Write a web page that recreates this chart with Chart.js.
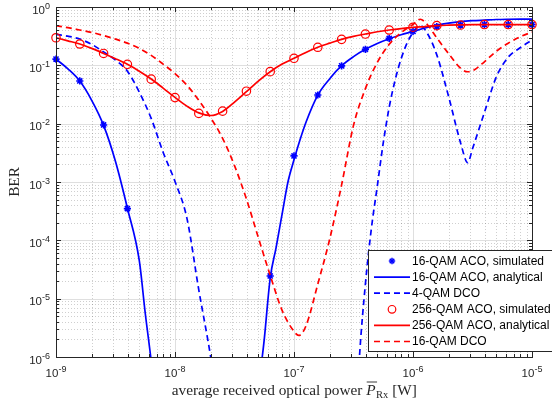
<!DOCTYPE html>
<html><head><meta charset="utf-8">
<script src="https://cdn.jsdelivr.net/npm/chart.js@4"></script>
<style>html,body{margin:0;padding:0;background:#fff;overflow:hidden}#wrap{width:552px;height:404px;position:relative}</style>
</head><body><div id="wrap"><canvas id="c" width="552" height="404"></canvas></div>
<script>
// ---- tick labels (decade exponents) ----
const xTickExps = [-9, -8, -7, -6, -5];
const yTickExps = [-6, -5, -4, -3, -2, -1, 0];

// ---- simulated points (x = 10^exp W) ----
const simExp = [-9, -8.8, -8.6, -8.4, -8.2, -8, -7.8, -7.6, -7.4, -7.2, -7, -6.8, -6.6, -6.4, -6.2, -6, -5.8, -5.6, -5.4, -5.2, -5];
const qam16AcoSim = [0.128, 0.054, 0.0095, 3.5e-4, null, null, null, null, null, 2.45e-5, 2.8e-3, 0.031, 0.098, 0.188, 0.29, 0.38, 0.46, 0.49, 0.50, 0.50, 0.50];
const qam256AcoSim = [0.297, 0.232, 0.160, 0.104, 0.058, 0.028, 0.015, 0.0164, 0.036, 0.078, 0.132, 0.204, 0.279, 0.344, 0.403, 0.45, 0.479, 0.49, 0.50, 0.50, 0.50];

// ---- 16-QAM ACO analytical ----
const qam16AcoAnaExp = [-9, -8.9, -8.8, -8.7, -8.6, -8.5, -8.4, -8.3, -8.25, -8.2, -8.1, -8, -7.8, -7.6, -7.4, -7.3, -7.25, -7.2, -7.15, -7.1, -7.05, -7, -6.95, -6.9, -6.8, -6.7, -6.6, -6.5, -6.4, -6.3, -6.2, -6.1, -6, -5.9, -5.8, -5.7, -5.6, -5.5, -5.4, -5.3, -5.2, -5.1, -5];
const qam16AcoAna = [0.128, 0.0871, 0.0537, 0.0251, 0.00933, 0.00224, 3.55e-4, 4.47e-5, 5.62e-6, 8.51e-7, 1e-8, 1e-10, 1e-13, 1e-14, 1e-10, 2.24e-7, 2.0e-6, 2.24e-5, 7.59e-5, 2.82e-4, 1.02e-3, 2.40e-3, 5.25e-3, 0.0105, 0.0309, 0.0589, 0.0984, 0.141, 0.188, 0.237, 0.286, 0.335, 0.380, 0.437, 0.490, 0.531, 0.562, 0.582, 0.596, 0.610, 0.617, 0.621, 0.622];

// ---- 4-QAM DCO ----
const qam4DcoExp = [-9, -8.9, -8.8, -8.7, -8.6, -8.5, -8.4, -8.3, -8.2, -8.1, -8, -7.9, -7.8, -7.7, -7.6, -7.4, -7, -6.6, -6.5, -6.45, -6.4, -6.35, -6.3, -6.25, -6.2, -6.15, -6.1, -6.05, -6, -5.94, -5.88, -5.8, -5.7, -5.6, -5.54, -5.5, -5.4, -5.3, -5.2, -5.1, -5];
const qam4Dco = [0.339, 0.316, 0.282, 0.229, 0.170, 0.123, 0.0794, 0.0347, 0.0123, 3.24e-3, 1.02e-3, 2.40e-4, 1.41e-5, 1e-6, 3.98e-8, 1e-10, 1e-14, 1e-11, 1.26e-8, 1e-6, 1.78e-5, 1.58e-4, 8.51e-4, 4.68e-3, 0.0191, 0.0562, 0.129, 0.240, 0.363, 0.479, 0.355, 0.151, 0.0288, 4.68e-3, 2.14e-3, 3.72e-3, 0.0155, 0.0631, 0.138, 0.2, 0.272];

// ---- 256-QAM ACO analytical ----
const qam256AcoAnaExp = [-9, -8.9, -8.8, -8.7, -8.6, -8.5, -8.4, -8.3, -8.2, -8.1, -8, -7.9, -7.8, -7.7, -7.6, -7.5, -7.4, -7.3, -7.2, -7.1, -7, -6.9, -6.8, -6.7, -6.6, -6.5, -6.4, -6.3, -6.2, -6.1, -6, -5.9, -5.8, -5.7, -5.6, -5.5, -5.4, -5.3, -5.2, -5.1, -5];
const qam256AcoAna = [0.297, 0.263, 0.232, 0.195, 0.160, 0.130, 0.104, 0.0794, 0.0582, 0.0407, 0.0282, 0.0200, 0.0153, 0.0138, 0.0162, 0.0234, 0.0355, 0.0537, 0.0776, 0.105, 0.132, 0.166, 0.204, 0.240, 0.279, 0.313, 0.344, 0.376, 0.403, 0.427, 0.447, 0.462, 0.479, 0.488, 0.494, 0.499, 0.50, 0.50, 0.50, 0.50, 0.50];

// ---- 16-QAM DCO ----
const qam16DcoExp = [-9, -8.9, -8.8, -8.7, -8.6, -8.5, -8.4, -8.3, -8.2, -8.1, -8, -7.9, -7.8, -7.7, -7.6, -7.5, -7.4, -7.3, -7.2, -7.1, -7, -6.96, -6.9, -6.8, -6.7, -6.6, -6.5, -6.4, -6.3, -6.2, -6.1, -6, -5.94, -5.88, -5.8, -5.7, -5.6, -5.54, -5.48, -5.4, -5.3, -5.2, -5.1, -5];
const qam16Dco = [0.479, 0.442, 0.403, 0.367, 0.324, 0.282, 0.240, 0.195, 0.148, 0.105, 0.0724, 0.0457, 0.0251, 0.0126, 5.62e-3, 1.91e-3, 5.13e-4, 1.12e-4, 2.51e-5, 6.31e-6, 2.75e-6, 2.34e-6, 3.39e-6, 1.78e-5, 1.05e-4, 8.91e-4, 9.33e-3, 0.0398, 0.112, 0.229, 0.363, 0.501, 0.617, 0.501, 0.295, 0.158, 0.0891, 0.0776, 0.0851, 0.115, 0.174, 0.240, 0.309, 0.372];

const seriesLabels = ['16-QAM ACO, simulated', '16-QAM ACO, analytical', '4-QAM DCO', '256-QAM ACO, simulated', '256-QAM ACO, analytical', '16-QAM DCO'];

const BLUE = '#0000ff', RED = '#ff0000', AX = '#262626';
const pts = (exps, vals) => exps.map((e, i) => ({ x: Math.pow(10, e), y: vals[i] }));

const lineBase = { pointRadius: 0, borderWidth: 1.7, cubicInterpolationMode: 'monotone', fill: false };

function drawPow(ctx, exp, x, y, align) {
  const base = '10', sup = exp === 0 ? '0' : '-' + Math.abs(exp);
  const fb = "11.5px 'Liberation Sans', Arial, sans-serif";
  const fs = "9px 'Liberation Sans', Arial, sans-serif";
  ctx.font = fb;
  const wb = ctx.measureText(base).width;
  ctx.font = fs;
  const ws = ctx.measureText(sup).width;
  const x0 = align === 'center' ? x - (wb + ws) / 2 : x - (wb + ws);
  ctx.textAlign = 'left'; ctx.textBaseline = 'alphabetic'; ctx.fillStyle = AX;
  ctx.font = fb;
  ctx.fillText(base, x0, y);
  ctx.font = fs;
  ctx.fillText(sup, x0 + wb, y - 5);
}

const framePlugin = {
  id: 'frame',
  beforeDatasetsDraw(chart) {
    const { ctx, chartArea: a, scales: { x, y } } = chart;
    ctx.save();
    ctx.lineWidth = 1;
    // minor grid (dotted)
    ctx.strokeStyle = 'rgba(38,38,38,0.22)';
    ctx.setLineDash([1, 2]);
    for (let n = xTickExps[0]; n < xTickExps[xTickExps.length - 1]; n++) {
      for (let m = 2; m <= 9; m++) {
        const px = Math.round(x.getPixelForValue(m * Math.pow(10, n))) + 0.5;
        ctx.beginPath(); ctx.moveTo(px, a.top); ctx.lineTo(px, a.bottom); ctx.stroke();
      }
    }
    for (let n = yTickExps[0]; n < yTickExps[yTickExps.length - 1]; n++) {
      for (let m = 2; m <= 9; m++) {
        const py = Math.round(y.getPixelForValue(m * Math.pow(10, n))) + 0.5;
        ctx.beginPath(); ctx.moveTo(a.left, py); ctx.lineTo(a.right, py); ctx.stroke();
      }
    }
    // major grid
    ctx.setLineDash([]);
    ctx.strokeStyle = 'rgba(38,38,38,0.15)';
    xTickExps.forEach(e => {
      const px = Math.round(x.getPixelForValue(Math.pow(10, e))) + 0.5;
      ctx.beginPath(); ctx.moveTo(px, a.top); ctx.lineTo(px, a.bottom); ctx.stroke();
    });
    yTickExps.forEach(e => {
      const py = Math.round(y.getPixelForValue(Math.pow(10, e))) + 0.5;
      ctx.beginPath(); ctx.moveTo(a.left, py); ctx.lineTo(a.right, py); ctx.stroke();
    });
    ctx.restore();
  },
  afterDatasetsDraw(chart) {
    const { ctx, chartArea: a, scales: { x, y } } = chart;
    ctx.save();
    // axes box
    ctx.strokeStyle = AX; ctx.lineWidth = 1; ctx.setLineDash([]);
    ctx.strokeRect(Math.round(a.left) + 0.5, Math.round(a.top) + 0.5, Math.round(a.right - a.left), Math.round(a.bottom - a.top));
    // tick marks
    const tick = (x1, y1, x2, y2) => { ctx.beginPath(); ctx.moveTo(x1, y1); ctx.lineTo(x2, y2); ctx.stroke(); };
    for (let n = xTickExps[0]; n <= xTickExps[xTickExps.length - 1]; n++) {
      for (let m = 1; m <= 9; m++) {
        const v = m * Math.pow(10, n);
        if (v > Math.pow(10, xTickExps[xTickExps.length - 1]) * 1.0001) break;
        const px = Math.round(x.getPixelForValue(v)) + 0.5;
        const L = m === 1 ? 5 : 3;
        tick(px, a.bottom, px, a.bottom - L);
        tick(px, a.top, px, a.top + L);
      }
    }
    for (let n = yTickExps[0]; n <= yTickExps[yTickExps.length - 1]; n++) {
      for (let m = 1; m <= 9; m++) {
        const v = m * Math.pow(10, n);
        if (v > Math.pow(10, yTickExps[yTickExps.length - 1]) * 1.0001) break;
        const py = Math.round(y.getPixelForValue(v)) + 0.5;
        const L = m === 1 ? 5 : 3;
        tick(a.left, py, a.left + L, py);
        tick(a.right, py, a.right - L, py);
      }
    }
    // tick labels
    xTickExps.forEach(e => drawPow(ctx, e, x.getPixelForValue(Math.pow(10, e)), 376.5, 'center'));
    yTickExps.forEach(e => drawPow(ctx, e, 50, y.getPixelForValue(Math.pow(10, e)) + 6.5, 'right'));

    // x axis title
    const serif = "'Liberation Serif', 'Times New Roman', serif";
    const parts = [
      { t: 'average received optical power ', f: '15.3px ' + serif, dy: 0 },
      { t: 'P', f: 'italic 15.3px ' + serif, dy: 0, over: true },
      { t: 'Rx', f: '10.5px ' + serif, dy: 3 },
      { t: ' [W]', f: '15.3px ' + serif, dy: 0 }
    ];
    let total = 0;
    parts.forEach(p => { ctx.font = p.f; p.w = ctx.measureText(p.t).width; total += p.w; });
    let cx = (a.left + a.right) / 2 - total / 2;
    const by = 394.5;
    ctx.fillStyle = AX; ctx.textAlign = 'left'; ctx.textBaseline = 'alphabetic';
    parts.forEach(p => {
      ctx.font = p.f; ctx.fillText(p.t, cx, by + p.dy);
      if (p.over) {
        ctx.lineWidth = 0.9; ctx.strokeStyle = AX;
        ctx.beginPath(); ctx.moveTo(cx + 0.5, by - 12.5); ctx.lineTo(cx + p.w + 1.5, by - 12.5); ctx.stroke();
      }
      cx += p.w + (p.over ? 0.5 : 0);
    });
    // y axis title
    ctx.save();
    ctx.translate(15, (a.top + a.bottom) / 2);
    ctx.rotate(-Math.PI / 2);
    ctx.font = '15.3px ' + serif; ctx.textAlign = 'center'; ctx.textBaseline = 'middle';
    ctx.fillText('BER', 0, 0);
    ctx.restore();

    // legend
    const lx = 368.5, ly = 250.5, lw = 190, lh = 101;
    ctx.fillStyle = '#ffffff'; ctx.fillRect(lx, ly, lw, lh);
    ctx.strokeStyle = AX; ctx.lineWidth = 1; ctx.strokeRect(lx, ly, lw, lh);
    const ds = chart.data.datasets;
    ds.forEach((d, i) => {
      const ry = 261 + i * 16.1;
      ctx.save();
      ctx.strokeStyle = d.borderColor; ctx.fillStyle = d.borderColor;
      if (d.showLine === false) {
        if (d.pointStyle === 'star') {
          ctx.lineWidth = 1.5;
          const r = 3.2, cxm = 392;
          for (let k = 0; k < 4; k++) {
            const ang = k * Math.PI / 4;
            ctx.beginPath();
            ctx.moveTo(cxm - r * Math.cos(ang), ry - r * Math.sin(ang));
            ctx.lineTo(cxm + r * Math.cos(ang), ry + r * Math.sin(ang));
            ctx.stroke();
          }
        } else {
          ctx.lineWidth = 1.2;
          ctx.beginPath(); ctx.arc(392, ry, 3.8, 0, Math.PI * 2); ctx.stroke();
        }
      } else {
        ctx.lineWidth = 1.7;
        ctx.setLineDash(d.borderDash || []);
        ctx.beginPath(); ctx.moveTo(374, ry); ctx.lineTo(410, ry); ctx.stroke();
      }
      ctx.restore();
      ctx.fillStyle = '#000000';
      ctx.font = "12px 'Liberation Sans', Arial, sans-serif";
      ctx.textAlign = 'left'; ctx.textBaseline = 'middle';
      ctx.fillText(d.label, 412, ry + 0.5);
    });
    ctx.restore();
  }
};

new Chart(document.getElementById('c'), {
  type: 'line',
  data: {
    datasets: [
      { label: seriesLabels[0], data: pts(simExp, qam16AcoSim), showLine: false, pointStyle: 'star', pointRadius: 3.6, pointBorderWidth: 1.6, borderColor: BLUE, backgroundColor: BLUE, clip: false, order: 6 },
      Object.assign({ label: seriesLabels[1], data: pts(qam16AcoAnaExp, qam16AcoAna), borderColor: BLUE, order: 5 }, lineBase),
      Object.assign({ label: seriesLabels[2], data: pts(qam4DcoExp, qam4Dco), borderColor: BLUE, borderDash: [6, 4], order: 4 }, lineBase),
      { label: seriesLabels[3], data: pts(simExp, qam256AcoSim), showLine: false, pointStyle: 'circle', pointRadius: 4.2, pointBorderWidth: 1.2, borderColor: RED, backgroundColor: 'rgba(0,0,0,0)', clip: false, order: 3 },
      Object.assign({ label: seriesLabels[4], data: pts(qam256AcoAnaExp, qam256AcoAna), borderColor: RED, order: 2 }, lineBase),
      Object.assign({ label: seriesLabels[5], data: pts(qam16DcoExp, qam16Dco), borderColor: RED, borderDash: [6, 4], order: 1 }, lineBase)
    ]
  },
  options: {
    responsive: false,
    animation: false,
    layout: { padding: { left: 56, right: 20, top: 7, bottom: 47 } },
    scales: {
      x: { type: 'logarithmic', min: 1e-9, max: 1e-5, display: false },
      y: { type: 'logarithmic', min: 1e-6, max: 1, display: false }
    },
    plugins: { legend: { display: false }, tooltip: { enabled: false } },
    events: []
  },
  plugins: [framePlugin]
});
</script>
</body></html>
